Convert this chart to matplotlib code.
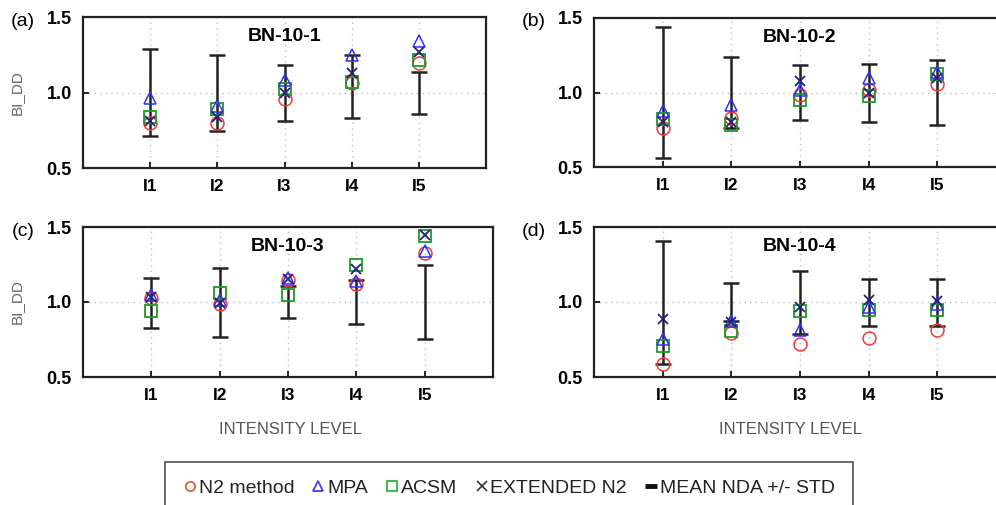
import matplotlib
matplotlib.use("Agg")
import matplotlib.pyplot as plt
from matplotlib.lines import Line2D
import numpy as np

plt.rcParams['font.family'] = ['Liberation Sans', 'DejaVu Sans']

levels = ["I1", "I2", "I3", "I4", "I5"]
panels = ["BN-10-1", "BN-10-2", "BN-10-3", "BN-10-4"]
panel_tags = ["(a)", "(b)", "(c)", "(d)"]

n2_method = [
    [0.795, 0.795, 0.955, 1.060, 1.194],
    [0.760, 0.826, 0.980, 1.018, 1.056],
    [1.029, 0.990, 1.144, 1.122, 1.329],
    [0.584, 0.793, 0.718, 0.762, 0.811],
]
mpa = [
    [0.961, 0.910, 1.083, 1.250, 1.344],
    [0.876, 0.916, 1.020, 1.100, 1.140],
    [1.050, 1.015, 1.162, 1.138, 1.340],
    [0.756, 0.876, 0.811, 0.970, 0.990],
]
acsm = [
    [0.835, 0.890, 1.020, 1.072, 1.216],
    [0.819, 0.780, 0.950, 0.975, 1.125],
    [0.938, 1.060, 1.044, 1.244, 1.440],
    [0.707, 0.810, 0.938, 0.944, 0.944],
]
extended_n2 = [
    [0.810, 0.840, 1.000, 1.127, 1.267],
    [0.800, 0.800, 1.080, 1.000, 1.100],
    [1.033, 0.993, 1.156, 1.222, 1.444],
    [0.889, 0.870, 0.966, 1.011, 1.004],
]
mean_nda = [
    [1.000, 0.998, 0.998, 1.042, 0.996],
    [1.000, 1.000, 0.998, 0.997, 1.000],
    [0.995, 0.998, 1.000, 1.000, 0.998],
    [0.996, 1.000, 0.998, 0.997, 0.997],
]
std_nda = [
    [0.289, 0.252, 0.185, 0.208, 0.138],
    [0.439, 0.236, 0.184, 0.195, 0.220],
    [0.167, 0.231, 0.107, 0.149, 0.246],
    [0.408, 0.129, 0.209, 0.154, 0.156],
]

W, H = 996, 505
fig = plt.figure(figsize=(W / 100, H / 100), dpi=100)

# pixel boxes: left, right, top, bottom
boxes = [(83, 486, 17, 168), (594, 1006, 18, 167),
         (83, 493, 227, 377), (594, 1006, 227, 377)]
xlabel_x = {2: 290, 3: 790}

c_red = '#f03a3a'
c_blue = '#3030f5'
c_green = '#1f9a2a'
c_x = '#22227a'

x = np.arange(1, len(levels) + 1)
for i, (l, r, t, b) in enumerate(boxes):
    ax = fig.add_axes([l / W, 1 - b / H, (r - l) / W, (b - t) / H])
    ax.set_xlim(0, 6)
    ax.set_ylim(0.5, 1.5)
    for xv in x:
        ax.axvline(xv, color='#bbbbbb', lw=1, ls=(0, (1, 3)), zorder=0)
    ax.axhline(1.0, color='#bbbbbb', lw=1, ls=(0, (1, 3)), zorder=0)
    ax.errorbar(x, mean_nda[i], yerr=std_nda[i], fmt='none', ecolor='#222222',
                elinewidth=1.8, capsize=5.5, capthick=1.8, zorder=2)
    ms = 9.3
    ax.plot(x, n2_method[i], 'o', mfc='none', mec=c_red, ms=ms, mew=1.1, zorder=3)
    ax.plot(x, acsm[i], 's', mfc='none', mec=c_green, ms=ms - 1, mew=1.3, zorder=4)
    ax.plot(x, mpa[i], '^', mfc='none', mec=c_blue, ms=ms, mew=1.1, zorder=5)
    ax.plot(x, extended_n2[i], 'x', color=c_x, ms=ms - 1.5, mew=1.3, zorder=6)
    ax.set_xticks(x)
    ax.set_xticklabels(levels, fontsize=12.5, fontweight='bold')
    ax.set_yticks([0.5, 1.0, 1.5])
    ax.set_yticklabels(['0.5', '1.0', '1.5'], fontsize=13, fontweight='bold')
    ax.tick_params(direction='in', length=4, width=1.2, pad=8)
    for s in ax.spines.values():
        s.set_linewidth(1.6)
        s.set_color('#222222')
    ax.text(0.5, 0.87, panels[i], transform=ax.transAxes, ha='center', va='center',
            fontsize=14, fontweight='bold')
    fig.text((l - 60) / W, 1 - (t + 4) / H, panel_tags[i], ha='center', va='center',
             fontsize=14)
    if i in (0, 2):
        fig.text(17 / W, 1 - ((t + b) / 2) / H, 'BI_DD', rotation=90, ha='center',
                 va='center', fontsize=11, color='#666666')
    if i in xlabel_x:
        fig.text(xlabel_x[i] / W, 1 - 430 / H, 'INTENSITY LEVEL', ha='center',
                 va='center', fontsize=12, color='#555555')

handles = [
    Line2D([], [], ls='none', marker='o', mfc='none', mec='#e0603a', ms=6.8, mew=1.3),
    Line2D([], [], ls='none', marker='^', mfc='none', mec='#4a3cf0', ms=7.5, mew=1.3),
    Line2D([], [], ls='none', marker='s', mfc='none', mec='#2db34a', ms=7, mew=1.3),
    Line2D([], [], ls='none', marker='x', color='#333333', ms=6.5, mew=1.2),
    Line2D([], [], ls='none', marker='_', color='#111111', ms=9, mew=3.5),
]
labels = ['N2 method', 'MPA', 'ACSM', 'EXTENDED N2', 'MEAN NDA +/- STD']
leg = fig.legend(handles, labels, loc='upper center', bbox_to_anchor=(509 / W, 1 - 462 / H),
                 ncol=5, fontsize=14, frameon=True, fancybox=False, handlelength=0.7,
                 handletextpad=0.1, columnspacing=0.9, borderpad=0.9, borderaxespad=0)
leg.get_frame().set_edgecolor('#222222')
leg.get_frame().set_linewidth(1.2)
for txt in leg.get_texts():
    txt.set_color('#222222')

fig.savefig('out.png', dpi=100)
